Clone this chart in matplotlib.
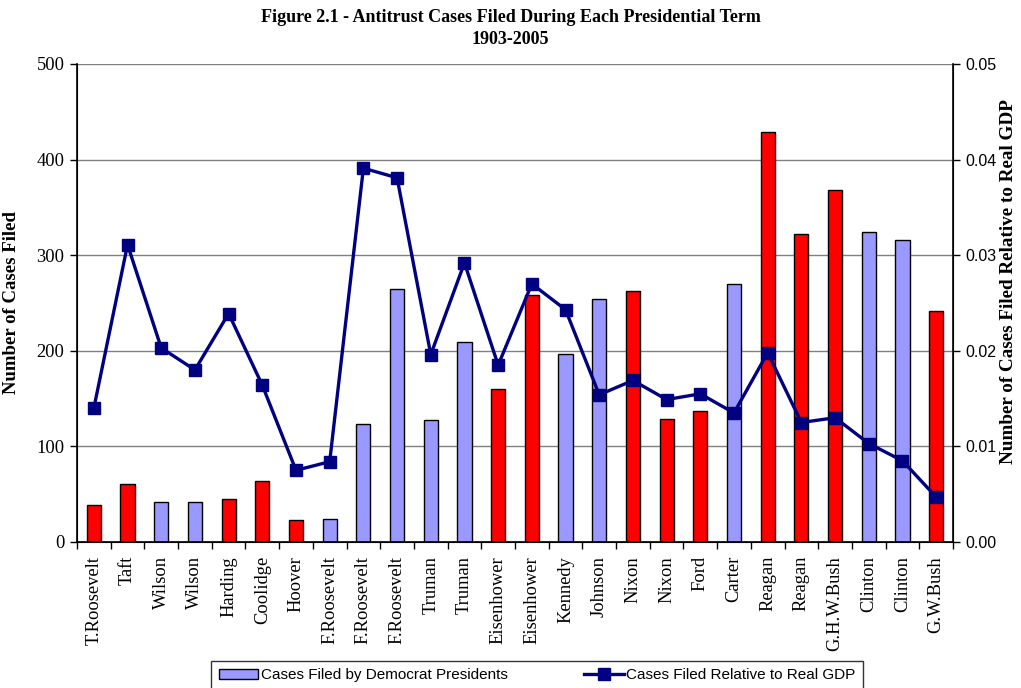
import numpy as np
import matplotlib.pyplot as plt
from matplotlib.patches import Patch
from matplotlib.lines import Line2D

presidents = ['T.Roosevelt', 'Taft', 'Wilson', 'Wilson', 'Harding', 'Coolidge',
              'Hoover', 'F.Roosevelt', 'F.Roosevelt', 'F.Roosevelt', 'Truman',
              'Truman', 'Eisenhower', 'Eisenhower', 'Kennedy', 'Johnson', 'Nixon',
              'Nixon', 'Ford', 'Carter', 'Reagan', 'Reagan', 'G.H.W.Bush',
              'Clinton', 'Clinton', 'G.W.Bush']
party = ['R', 'R', 'D', 'D', 'R', 'R', 'R', 'D', 'D', 'D', 'D', 'D', 'R', 'R',
         'D', 'D', 'R', 'R', 'R', 'D', 'R', 'R', 'R', 'D', 'D', 'R']
cases_filed = [39, 61, 42, 42, 45, 64, 23, 24, 123, 265, 128, 209, 160, 258,
               197, 254, 263, 129, 137, 270, 429, 322, 368, 324, 316, 242]
cases_per_gdp = [0.0140, 0.0311, 0.0203, 0.0180, 0.0239, 0.0164, 0.0075,
                 0.0084, 0.0391, 0.0381, 0.0196, 0.0292, 0.0185, 0.0270,
                 0.0243, 0.0154, 0.0169, 0.0149, 0.0155, 0.0135, 0.0198,
                 0.0125, 0.0130, 0.0103, 0.0085, 0.0047]

DEM_COLOR = '#9999FF'
REP_COLOR = '#FF0000'
LINE_COLOR = '#000080'
serif = ['Liberation Serif', 'DejaVu Serif']
sans = ['Liberation Sans', 'DejaVu Sans']

fig = plt.figure(figsize=(10.21, 6.88), dpi=100)
ax = fig.add_axes([77 / 1021, 1 - 542 / 688, 876 / 1021, 478 / 688])
ax2 = ax.twinx()

x = np.arange(len(presidents))
colors = [DEM_COLOR if p == 'D' else REP_COLOR for p in party]
ax.bar(x, cases_filed, width=0.42, color=colors, edgecolor='black',
       linewidth=1.0, zorder=2)

ax.set_xlim(-0.5, len(presidents) - 0.5)
ax.set_ylim(0, 500)
ax.set_yticks(np.arange(0, 501, 100))
ax.yaxis.grid(True, color='#808080', linewidth=1.0, zorder=0)
ax.set_axisbelow(True)

# category labels centred on bars, tick marks on the boundaries
ax.set_xticks(x)
ax.set_xticklabels(presidents, rotation=90, fontfamily=serif, fontsize=13.3)
ax.tick_params(axis='x', which='major', length=0, pad=10)
ax.set_xticks(np.arange(-0.5, len(presidents), 1), minor=True)
ax.tick_params(axis='x', which='minor', length=5, width=1, direction='out')
ax.tick_params(axis='y', length=5, width=1, labelsize=13.3, pad=4)
for lbl in ax.get_yticklabels():
    lbl.set_fontfamily(serif)

ax.spines['top'].set_visible(False)
ax2.spines['top'].set_visible(False)
for sp in ['left', 'bottom']:
    ax.spines[sp].set_linewidth(1.2)
ax2.spines['right'].set_linewidth(1.2)

ax2.plot(x, cases_per_gdp, color=LINE_COLOR, linewidth=2.4, marker='s',
         markersize=9, markerfacecolor=LINE_COLOR, markeredgecolor=LINE_COLOR,
         zorder=3)
ax2.set_ylim(0, 0.05)
ax2.set_yticks(np.arange(0, 0.051, 0.01))
ax2.set_yticklabels([f'{v:.2f}' for v in np.arange(0, 0.051, 0.01)],
                    fontfamily=sans, fontsize=11.5)
ax2.tick_params(axis='y', length=5, width=1, pad=4)

ax.set_ylabel('Number of Cases Filed', fontfamily=serif, fontsize=13.5,
              fontweight='bold', labelpad=12)
# right-hand label placed by hand so it stays inside the canvas
fig.text(1008 / 1021, 1 - 282 / 688, 'Number of Cases Filed Relative to Real GDP',
         rotation=90, ha='center', va='center', fontfamily=serif,
         fontsize=13.8, fontweight='bold')

fig.suptitle('Figure 2.1 - Antitrust Cases Filed During Each Presidential Term\n1903-2005',
             x=0.5, y=0.987, fontfamily=serif, fontsize=13, fontweight='bold',
             linespacing=1.4)

handles = [Patch(facecolor=DEM_COLOR, edgecolor='black', linewidth=1.0),
           Line2D([0], [0], color=LINE_COLOR, linewidth=2.4, marker='s',
                  markersize=8)]
labels = ['Cases Filed by Democrat Presidents',
          'Cases Filed Relative to Real GDP']
leg = fig.legend(handles, labels, ncol=2, loc='upper center',
                 bbox_to_anchor=(537 / 1021, 1 - 653 / 688),
                 prop={'family': sans, 'size': 11}, frameon=True,
                 fancybox=False, edgecolor='black', handlelength=2.6,
                 handletextpad=0.15, columnspacing=5.0, borderpad=0.5)
leg.get_frame().set_linewidth(1.0)

fig.savefig('out.png', dpi=100)
